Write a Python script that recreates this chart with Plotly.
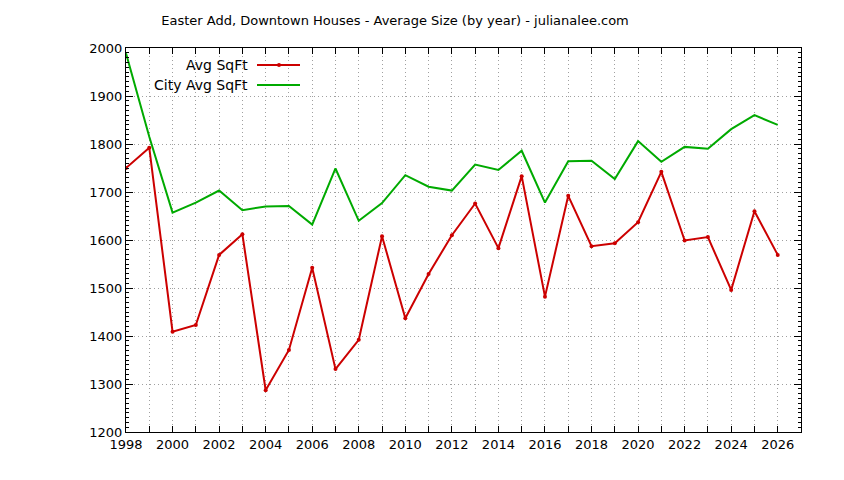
import plotly.graph_objects as go

years = list(range(1998, 2027))

avg_sqft = [1750, 1792, 1409, 1423, 1569, 1612, 1287, 1371, 1542, 1331,
            1392, 1608, 1437, 1529, 1610, 1676, 1583, 1733, 1482, 1692,
            1587, 1593, 1637, 1742, 1599, 1606, 1496, 1660, 1569]

city_avg_sqft = [1989, 1815, 1657, 1678, 1703, 1662, 1670, 1671, 1632, 1749,
                 1640, 1677, 1735, 1711, 1703, 1757, 1746, 1786, 1678, 1764,
                 1765, 1727, 1806, 1763, 1794, 1790, 1831, 1860, 1840]

series_names = ["Avg SqFt", "City Avg SqFt"]
title_text = "Easter Add, Downtown Houses - Average Size (by year) - julianalee.com"

RED = "#cc0000"
GREEN = "#00aa00"
GRID = "#a0a0a0"
FONT = "DejaVu Sans"
# page body margin in the browser is 8px, so the figure is shrunk by that
OFF = 8
W, H = 844 - OFF, 480 - OFF
L, R, T, B = 126 - OFF, 43, 48 - OFF, 48

fig = go.Figure()

fig.add_trace(go.Scatter(
    x=years, y=avg_sqft, name=series_names[0],
    mode="lines+markers",
    line=dict(color=RED, width=2),
    marker=dict(color=RED, size=4, symbol="circle"),
))

fig.add_trace(go.Scatter(
    x=years, y=city_avg_sqft, name=series_names[1],
    mode="lines",
    line=dict(color=GREEN, width=2),
))

# gnuplot style key: text on the left, line sample on the right
# (positions given in screen pixels of the final page)
def px_x(p):
    return (p - OFF - L) / (W - L - R)

def px_y(p):
    return 1 - (p - OFF - T) / (H - T - B)

key_rows = [(65, RED, True), (85, GREEN, False)]
for name, (row_y, color, with_marker) in zip(series_names, key_rows):
    fig.add_annotation(
        x=px_x(250), y=px_y(row_y), xref="paper", yref="paper",
        text=name, showarrow=False, xanchor="right", yanchor="middle",
        font=dict(family=FONT, size=14, color="black"),
    )
    fig.add_shape(
        type="line", xref="paper", yref="paper",
        x0=px_x(257), x1=px_x(300), y0=px_y(row_y), y1=px_y(row_y),
        line=dict(color=color, width=2),
    )
    if with_marker:
        fig.add_shape(
            type="circle", xref="paper", yref="paper",
            x0=px_x(277), x1=px_x(281), y0=px_y(row_y - 2), y1=px_y(row_y + 2),
            fillcolor=color, line=dict(color=color, width=0),
        )

axis_common = dict(
    showline=True, linecolor="black", linewidth=1, mirror="ticks",
    ticks="inside", tickcolor="black", showgrid=True,
    gridcolor=GRID, griddash="1px,3px", gridwidth=1, zeroline=False,
    tickfont=dict(family=FONT, size=13, color="black"),
)

fig.update_layout(
    width=W, height=H,
    margin=dict(l=L, r=R, t=T, b=B),
    paper_bgcolor="white", plot_bgcolor="white",
    showlegend=False,
    title=dict(
        text=title_text, x=(395 - OFF) / W, xanchor="center", xref="container",
        y=1 - (20 - OFF) / H, yanchor="middle", yref="container",
        font=dict(family=FONT, size=13, color="black"),
    ),
    xaxis=dict(
        range=[1998, 2027], dtick=2, tick0=1998, ticklen=6,
        minor=dict(dtick=1, tick0=1998, ticklen=6, ticks="inside", tickcolor="black",
                   showgrid=True, gridcolor=GRID, griddash="1px,3px"),
        **axis_common,
    ),
    yaxis=dict(
        range=[1200, 2000], dtick=100, ticklen=7,
        minor=dict(dtick=10, ticklen=3, ticks="inside", tickcolor="black", showgrid=False),
        **axis_common,
    ),
)

fig.write_html("out.html")
